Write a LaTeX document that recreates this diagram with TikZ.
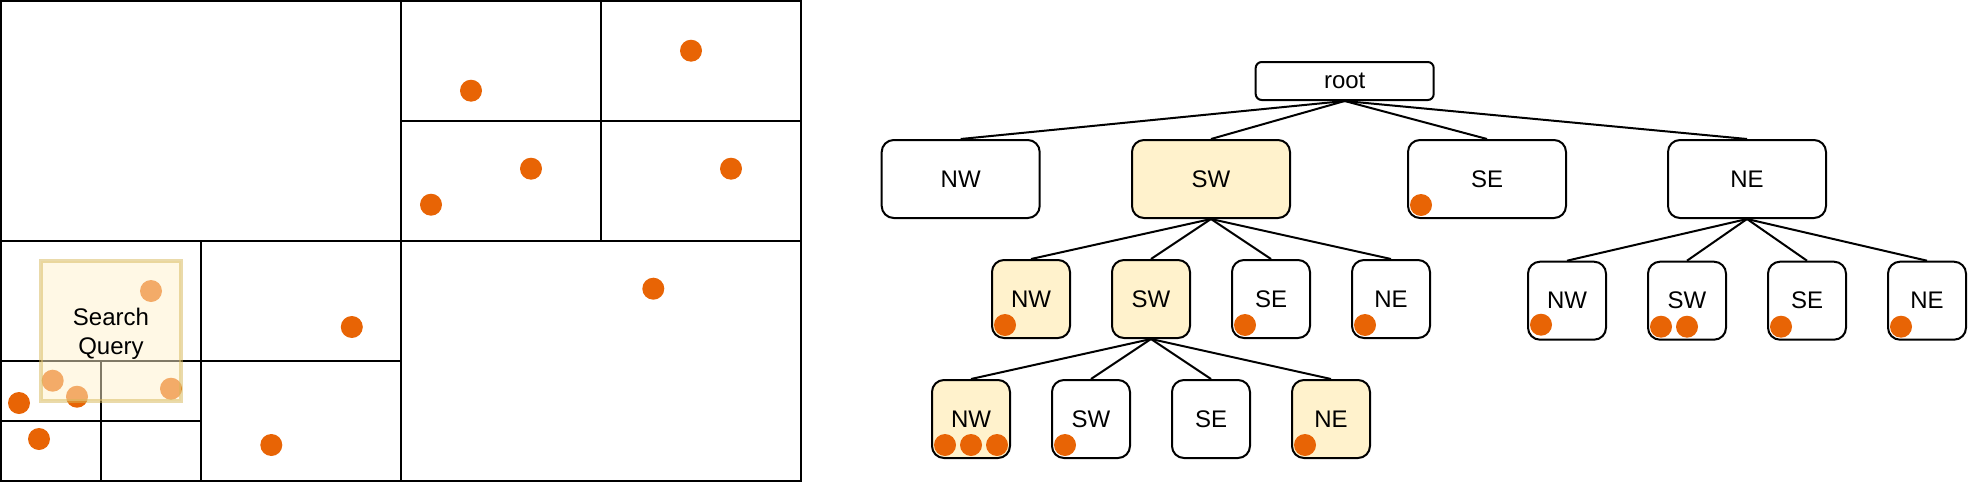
\documentclass[tikz,border=0pt]{standalone}
\usepackage{fontspec}
\setmainfont{Liberation Sans}
\definecolor{dotc}{HTML}{E86405}
\definecolor{hl}{HTML}{FFF2CC}
\definecolor{qstroke}{HTML}{D6B656}
\begin{document}
\begin{tikzpicture}[x=1pt,y=-1pt,line width=2pt,
  lbl/.style={font=\fontsize{24}{28.8}\selectfont},
  tbox/.style={draw, rounded corners=12pt, inner sep=0pt, lbl},
  wide/.style={tbox, minimum width=158pt, minimum height=78pt},
  sq/.style={tbox, minimum width=78pt, minimum height=78pt},
  rootbox/.style={tbox, rounded corners=6pt, minimum width=178pt, minimum height=38pt},
  hit/.style={fill=hl},
  pt/.style={fill=dotc},
  query/.style={draw=qstroke, draw opacity=0.5, fill=hl, fill opacity=0.5,
    text opacity=1, line width=3.5pt, minimum width=140pt, minimum height=140pt,
    inner sep=0pt, align=center, text depth=0pt, lbl},
  edge/.style={line width=2pt}]
\useasboundingbox (0,0) rectangle (1968,482);

% ---- spatial grid ----
\draw (1,1) rectangle (801,481);
\draw (401,1) -- (401,481);
\draw (1,241) -- (801,241);
\draw (601,1) -- (601,241);
\draw (401,121) -- (801,121);
\draw (201,241) -- (201,481);
\draw (1,361) -- (401,361);
\draw (101,361) -- (101,481);
\draw (1,421) -- (201,421);

% points
\foreach \p in {(471,90.7),(691,50.7),(531,168.7),(431,204.7),(731,168.7),
  (351.8,327),(653.3,288.7),(271.3,445),(151,291),(52.7,380.7),(77,396.7),
  (171,388.7),(19,403),(39,439)}
  \fill[pt] \p circle[radius=11pt];

% search query window
\node[query] (query) at (111,331) {Search\\Query};

% ---- tree ----
\node[rootbox] (root) at (1344.7,81) {root};

\node[wide] (nw1) at (960.7,179) {NW};
\node[wide,hit] (sw1) at (1211,179) {SW};
\node[wide] (se1) at (1487,179) {SE};
\node[wide] (ne1) at (1747,179) {NE};

\node[sq,hit] (swnw) at (1031,299) {NW};
\node[sq,hit] (swsw) at (1151,299) {SW};
\node[sq] (swse) at (1271,299) {SE};
\node[sq] (swne) at (1391,299) {NE};

\node[sq] (nenw) at (1567,300.7) {NW};
\node[sq] (nesw) at (1687,300.7) {SW};
\node[sq] (nese) at (1807,300.7) {SE};
\node[sq] (nene) at (1927,300.7) {NE};

\node[sq,hit] (swswnw) at (971,419) {NW};
\node[sq] (swswsw) at (1091,419) {SW};
\node[sq] (swswse) at (1211,419) {SE};
\node[sq,hit] (swswne) at (1331,419) {NE};

% edges
\foreach \c in {nw1,sw1,se1,ne1} \draw[edge] (root.south) -- (\c.north);
\foreach \c in {swnw,swsw,swse,swne} \draw[edge] (sw1.south) -- (\c.north);
\foreach \c in {nenw,nesw,nese,nene} \draw[edge] (ne1.south) -- (\c.north);
\foreach \c in {swswnw,swswsw,swswse,swswne} \draw[edge] (swsw.south) -- (\c.north);

% points stored in nodes
\fill[pt] ([shift={(14,-14)}]se1.south west) circle[radius=11pt];
\foreach \n in {swnw,swse,swne,nese,nene,swswsw,swswne}
  \fill[pt] ([shift={(14,-14)}]\n.south west) circle[radius=11pt];
\fill[pt] ([shift={(14,-16)}]nenw.south west) circle[radius=11pt];
\foreach \dx in {14,40}
  \fill[pt] ([shift={(\dx,-14)}]nesw.south west) circle[radius=11pt];
\foreach \dx in {14,40,66}
  \fill[pt] ([shift={(\dx,-14)}]swswnw.south west) circle[radius=11pt];
\end{tikzpicture}
\end{document}
